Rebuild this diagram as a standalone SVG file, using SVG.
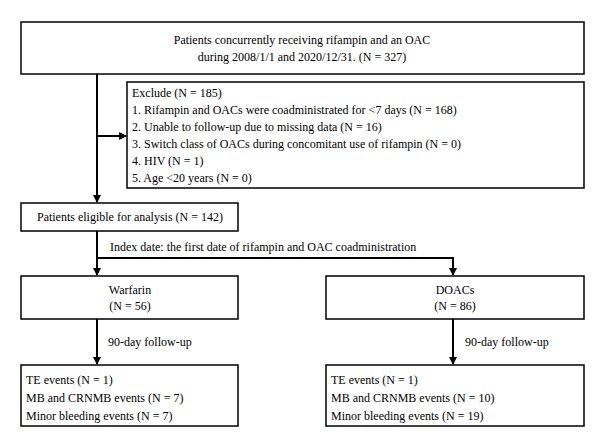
<svg xmlns="http://www.w3.org/2000/svg" width="600" height="441" viewBox="0 0 600 441">
<defs>
<marker id="ah" markerWidth="8" markerHeight="8" refX="7" refY="4" orient="auto" markerUnits="userSpaceOnUse">
<path d="M0,0 L8,4 L0,8 Z" fill="#000"/>
</marker>
<style>
.box{fill:#fff;stroke:#000;stroke-width:1.5}
.t{font-family:"Liberation Serif","Times New Roman",serif;font-size:12px;fill:#000}
.c{text-anchor:middle}
.ln{fill:none;stroke:#000;stroke-width:2}
</style>
</defs>
<rect width="600" height="441" fill="#fff"/>
<g id="connectors">
<path class="ln" d="M97,74 V202" marker-end="url(#ah)"/>
<path class="ln" d="M97,136 H126" marker-end="url(#ah)"/>
<path class="ln" d="M97,231 V275" marker-end="url(#ah)"/>
<path class="ln" d="M97,258 H453 V275" marker-end="url(#ah)"/>
<path class="ln" d="M97,319 V364" marker-end="url(#ah)"/>
<path class="ln" d="M453,319 V364" marker-end="url(#ah)"/>
<text class="t" x="110" y="251">Index date: the first date of rifampin and OAC coadministration</text>
<text class="t" x="108" y="346">90-day follow-up</text>
<text class="t" x="465" y="346">90-day follow-up</text>
</g>
<g id="start">
<rect class="box" x="21" y="22" width="563" height="52"/>
<text class="t c" x="302" y="44">Patients concurrently receiving rifampin and an OAC</text>
<text class="t c" x="302" y="61">during 2008/1/1 and 2020/12/31. (N = 327)</text>
</g>
<g id="exclude">
<rect class="box" x="127" y="82" width="457" height="106"/>
<text class="t" x="132" y="97">Exclude (N = 185)</text>
<text class="t" x="132" y="114">1. Rifampin and OACs were coadministrated for &lt;7 days (N = 168)</text>
<text class="t" x="132" y="131">2. Unable to follow-up due to missing data (N = 16)</text>
<text class="t" x="132" y="148">3. Switch class of OACs during concomitant use of rifampin (N = 0)</text>
<text class="t" x="132" y="165">4. HIV (N = 1)</text>
<text class="t" x="132" y="182">5. Age &lt;20 years (N = 0)</text>
</g>
<g id="eligible">
<rect class="box" x="21" y="203" width="217" height="28"/>
<text class="t c" x="130" y="221">Patients eligible for analysis (N = 142)</text>
</g>
<g id="warfarin">
<rect class="box" x="21" y="276" width="217" height="43"/>
<text class="t c" x="130" y="294">Warfarin</text>
<text class="t c" x="130" y="310">(N = 56)</text>
</g>
<g id="doacs">
<rect class="box" x="326" y="276" width="258" height="43"/>
<text class="t c" x="455" y="294">DOACs</text>
<text class="t c" x="455" y="310">(N = 86)</text>
</g>
<g id="warfarin-outcomes">
<rect class="box" x="21" y="365" width="217" height="61"/>
<text class="t" x="26" y="384">TE events (N = 1)</text>
<text class="t" x="26" y="402">MB and CRNMB events (N = 7)</text>
<text class="t" x="26" y="420">Minor bleeding events (N = 7)</text>
</g>
<g id="doacs-outcomes">
<rect class="box" x="326" y="365" width="258" height="61"/>
<text class="t" x="331" y="384">TE events (N = 1)</text>
<text class="t" x="331" y="402">MB and CRNMB events (N = 10)</text>
<text class="t" x="331" y="420">Minor bleeding events (N = 19)</text>
</g>
</svg>
